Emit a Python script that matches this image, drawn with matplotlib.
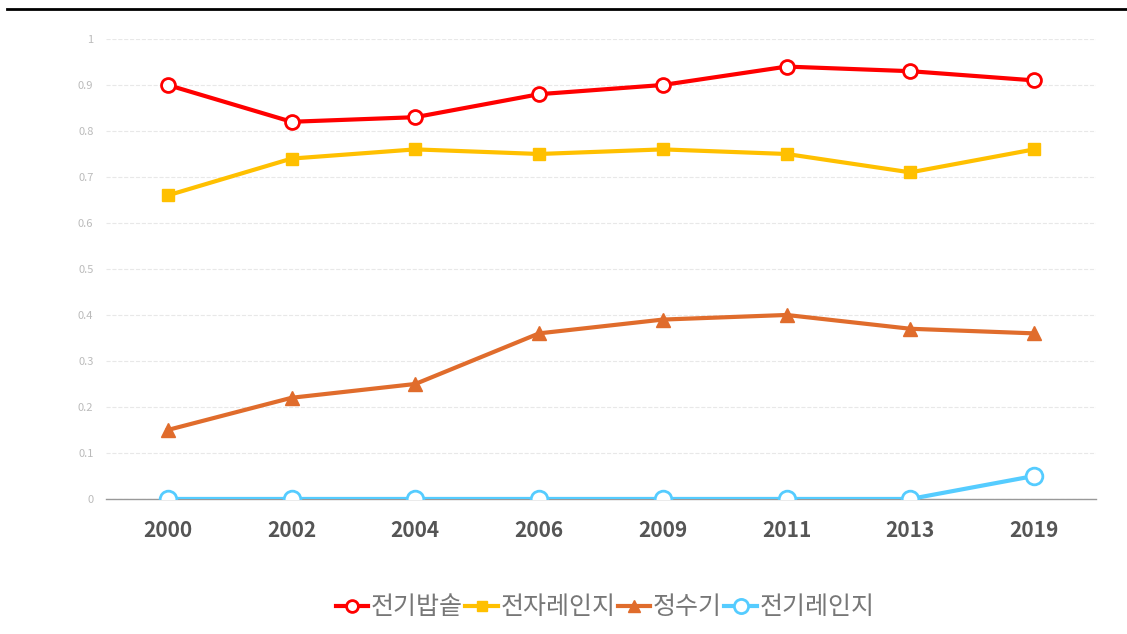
import matplotlib.pyplot as plt
from matplotlib.lines import Line2D

plt.rcParams['font.family'] = ['Noto Sans CJK KR', 'DejaVu Sans']

years = ['2000', '2002', '2004', '2006', '2009', '2011', '2013', '2019']
series_names = ['전기밥솥', '전자레인지', '정수기', '전기레인지']
rice_cooker = [0.90, 0.82, 0.83, 0.88, 0.90, 0.94, 0.93, 0.91]
microwave = [0.66, 0.74, 0.76, 0.75, 0.76, 0.75, 0.71, 0.76]
water_purifier = [0.15, 0.22, 0.25, 0.36, 0.39, 0.40, 0.37, 0.36]
electric_range = [0, 0, 0, 0, 0, 0, 0, 0.05]

fig = plt.figure(figsize=(11.27, 6.34), dpi=100)
ax = fig.add_axes([0.094, 0.213, 0.8785, 0.7255])

x = range(len(years))
ax.plot(x, rice_cooker, color='#ff0000', lw=3, marker='o', ms=10,
        mfc='white', mec='#ff0000', mew=2, label=series_names[0], zorder=3)
ax.plot(x, microwave, color='#ffc000', lw=3, marker='s', ms=9,
        mfc='#ffc000', mec='#ffc000', label=series_names[1], zorder=3)
ax.plot(x, water_purifier, color='#e06c2c', lw=3, marker='^', ms=10,
        mfc='#e06c2c', mec='#e06c2c', label=series_names[2], zorder=3)
ax.plot(x, electric_range, color='#55ccff', lw=3, marker='o', ms=12,
        mfc='white', mec='#55ccff', mew=2, label=series_names[3], zorder=4)

ax.set_xlim(-0.5, len(years) - 0.5)
ax.set_ylim(0, 1)
ax.set_yticks([i / 10 for i in range(11)])
ax.set_yticklabels(['0', '0.1', '0.2', '0.3', '0.4', '0.5', '0.6', '0.7', '0.8', '0.9', '1'])
ax.set_xticks(list(x))
ax.set_xticklabels(years, fontsize=15, fontweight='bold', color='#555555')
ax.tick_params(axis='y', labelsize=8, labelcolor='#bbbbbb', length=0, pad=9)
ax.tick_params(axis='x', length=0, pad=15)
ax.grid(axis='y', color='#e8e8e8', linestyle='--', lw=0.8)
ax.set_axisbelow(True)
for s in ['top', 'right', 'left']:
    ax.spines[s].set_visible(False)
ax.spines['bottom'].set_color('#999999')
ax.spines['bottom'].set_linewidth(1)

fig.add_artist(Line2D([0.006, 1.0], [0.986, 0.986], color='black', lw=2))

leg = fig.legend(loc='center', bbox_to_anchor=(0.537, 0.042), ncol=4, frameon=False,
                 fontsize=18, handlelength=1.3, handletextpad=0.1, columnspacing=0.1,
                 markerscale=0.85)
for t in leg.get_texts():
    t.set_color('#777777')

fig.savefig('out.png', dpi=100)
